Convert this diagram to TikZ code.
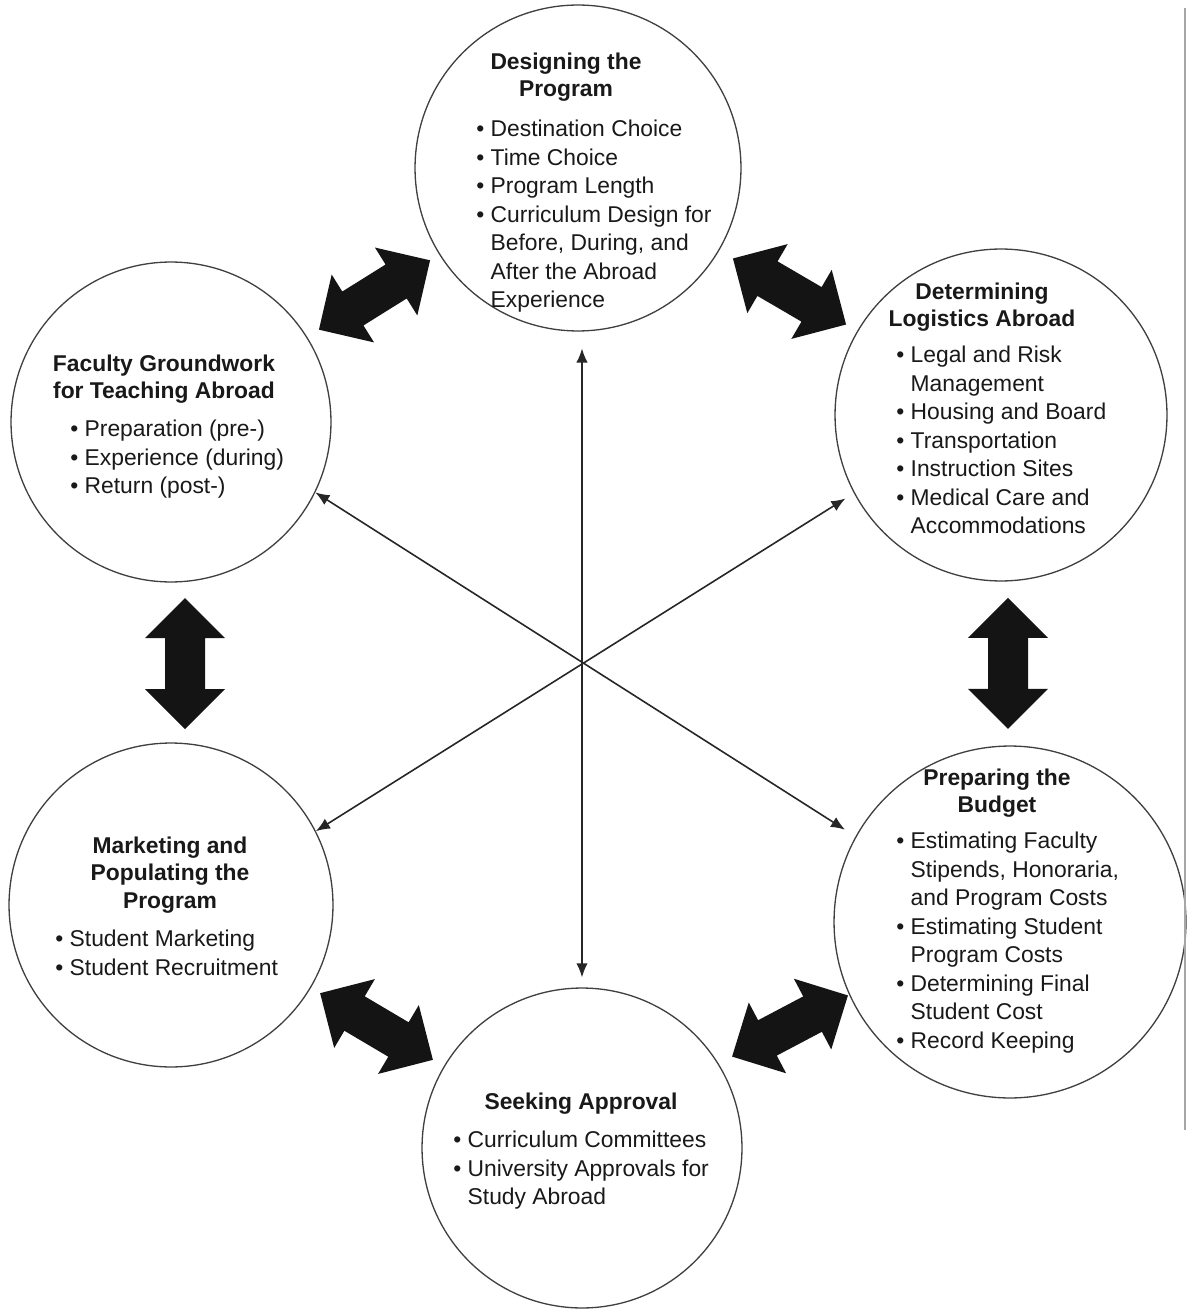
\documentclass[tikz,border=0pt]{standalone}
\usepackage{fontspec}
\setmainfont{Liberation Sans}
\usetikzlibrary{arrows.meta,calc}
\newcommand\hangpad{\phantom{\textbullet\ }}

\begin{document}
\begin{tikzpicture}[x=0.02cm,y=-0.02cm,
  stage/.style={circle, draw=black!75, line width=0.75pt, inner sep=0pt},
  heading/.style={font=\fontsize{13}{15.4}\selectfont\bfseries, align=center,
    inner sep=0pt, anchor=north, text=black!90},
  items/.style={font=\fontsize{13}{16.2}\selectfont, align=left,
    inner sep=0pt, anchor=north west, text=black!90},
  link/.style={draw=black!85, line width=0.9pt,
    {Latex[length=8pt,width=6.5pt]}-{Latex[length=8pt,width=6.5pt]}},
  dblarrow/.pic={\fill[black!92] (-65.5,0) -- (-25.5,-40) -- (-25.5,-20)
    -- (25.5,-20) -- (25.5,-40) -- (65.5,0) -- (25.5,40) -- (25.5,20)
    -- (-25.5,20) -- (-25.5,40) -- cycle;}
]
\path[use as bounding box, fill=white] (0,0) rectangle (1188,1310);

% the six stages
\node[stage, minimum size=6.52cm] (top) at (578,168) {};
\node[stage, minimum size=6.64cm] (ur)  at (1001,415) {};
\node[stage, minimum size=6.40cm] (ul)  at (171,422) {};
\node[stage, minimum size=6.48cm] (ll)  at (171,905) {};
\node[stage, minimum size=7.04cm] (lr)  at (1010,922) {};
\node[stage, minimum size=6.40cm] (bot) at (582,1148) {};

% stage texts
\node[heading] (top-h) at (566,53) {Designing the\\Program};
\node[items] (top-l) at (476,120) {\textbullet\ Destination Choice\\
  \textbullet\ Time Choice\\
  \textbullet\ Program Length\\
  \textbullet\ Curriculum Design for\\
  \hangpad Before, During, and\\
  \hangpad After the Abroad\\
  \hangpad Experience};

\node[heading] (ur-h) at (982,283) {Determining\\Logistics Abroad};
\node[items] (ur-l) at (896,346) {\textbullet\ Legal and Risk\\
  \hangpad Management\\
  \textbullet\ Housing and Board\\
  \textbullet\ Transportation\\
  \textbullet\ Instruction Sites\\
  \textbullet\ Medical Care and\\
  \hangpad Accommodations};

\node[heading] (ul-h) at (164,355) {Faculty Groundwork\\for Teaching Abroad};
\node[items] (ul-l) at (70,420) {\textbullet\ Preparation (pre-)\\
  \textbullet\ Experience (during)\\
  \textbullet\ Return (post-)};

\node[heading] (ll-h) at (170,837) {Marketing and\\Populating the\\Program};
\node[items] (ll-l) at (55,930) {\textbullet\ Student Marketing\\
  \textbullet\ Student Recruitment};

\node[heading] (lr-h) at (997,769) {Preparing the\\Budget};
\node[items] (lr-l) at (896,832) {\textbullet\ Estimating Faculty\\
  \hangpad Stipends, Honoraria,\\
  \hangpad and Program Costs\\
  \textbullet\ Estimating Student\\
  \hangpad Program Costs\\
  \textbullet\ Determining Final\\
  \hangpad Student Cost\\
  \textbullet\ Record Keeping};

\node[heading] (bot-h) at (581,1093) {Seeking Approval};
\node[items] (bot-l) at (453,1131) {\textbullet\ Curriculum Committees\\
  \textbullet\ University Approvals for\\
  \hangpad Study Abroad};

% thin two-way links through the middle
\draw[link, shorten <=9.6pt, shorten >=5.7pt] (top.south -| bot.north) -- (bot.north);
\draw[link, shorten >=7.1pt] (ul.-26) -- (lr.151);
\draw[link, shorten >=5.7pt] (ll.27) -- (ur.-152);

% heavy two-way arrows between neighbouring stages
\path (top.center) -- (ul.center) pic[pos=0.5, sloped] {dblarrow};
\path (top.center) -- (ur.center) pic[pos=0.5, sloped] {dblarrow};
\path ([xshift=0.28cm]ul.center) -- ([xshift=0.28cm]ll.center) pic[pos=0.5, sloped] {dblarrow};
\path ([xshift=0.14cm]ur.center) -- ([xshift=0.14cm]ur.center |- lr.center) pic[pos=0.49, sloped] {dblarrow};
\path (ll.center) -- (bot.center) pic[pos=0.5, sloped] {dblarrow};
\path ([shift={(-6,-9)}]bot.center) -- ([shift={(-6,-9)}]lr.center) pic[pos=0.5, sloped] {dblarrow};

% page edge rule
\draw[black!35, line width=0.8pt] (1185,8) -- (1185,1130);
\end{tikzpicture}
\end{document}
